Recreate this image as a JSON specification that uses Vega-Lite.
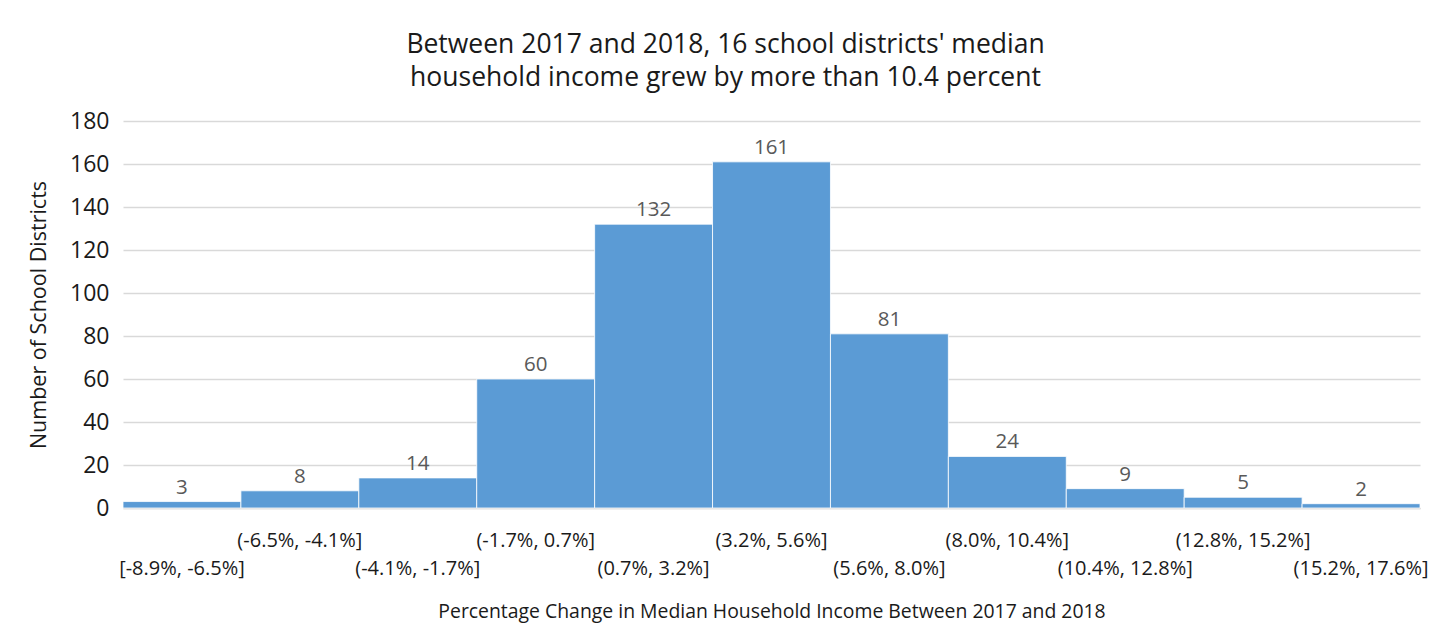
{
  "$schema": "https://vega.github.io/schema/vega-lite/v6.json",
  "width": 1297,
  "height": 387,
  "autosize": {"type": "none"},
  "padding": {"left": 123, "top": 121, "right": 32, "bottom": 129},
  "background": "white",
  "config": {
    "font": "Open Sans",
    "view": {"stroke": null}
  },
  "title": {
    "text": ["Between 2017 and 2018, 16 school districts' median", "household income grew by more than 10.4 percent"],
    "anchor": "middle",
    "dx": -46,
    "fontSize": 26.5,
    "fontWeight": "normal",
    "color": "#1a1a1a",
    "lineHeight": 33,
    "offset": 19
  },
  "data": {
    "values": [
      {"bin": "[-8.9%, -6.5%]", "count": 3},
      {"bin": "(-6.5%, -4.1%]", "count": 8},
      {"bin": "(-4.1%, -1.7%]", "count": 14},
      {"bin": "(-1.7%, 0.7%]", "count": 60},
      {"bin": "(0.7%, 3.2%]", "count": 132},
      {"bin": "(3.2%, 5.6%]", "count": 161},
      {"bin": "(5.6%, 8.0%]", "count": 81},
      {"bin": "(8.0%, 10.4%]", "count": 24},
      {"bin": "(10.4%, 12.8%]", "count": 9},
      {"bin": "(12.8%, 15.2%]", "count": 5},
      {"bin": "(15.2%, 17.6%]", "count": 2}
    ]
  },
  "encoding": {
    "x": {
      "field": "bin",
      "type": "nominal",
      "sort": null,
      "scale": {"paddingInner": 0, "paddingOuter": 0},
      "axis": {
        "title": "Percentage Change in Median Household Income Between 2017 and 2018",
        "titleFontSize": 19.4,
        "titleFontWeight": "normal",
        "titleColor": "#1a1a1a",
        "titlePadding": 24,
        "labelAngle": 0,
        "labelFontSize": 20,
        "labelColor": "#1a1a1a",
        "labelPadding": 22,
        "labelLineHeight": 28,
        "labelBaseline": "top",
        "labelOverlap": false,
        "labelExpr": "indexof(['(-6.5%, -4.1%]','(-1.7%, 0.7%]','(3.2%, 5.6%]','(8.0%, 10.4%]','(12.8%, 15.2%]'], datum.value) >= 0 ? [datum.value] : ['', datum.value]",
        "ticks": false,
        "domainColor": "#d9d9d9",
        "domainWidth": 1.5
      }
    },
    "y": {
      "field": "count",
      "type": "quantitative",
      "scale": {"domain": [0, 180], "nice": false},
      "axis": {
        "title": "Number of School Districts",
        "titleFontSize": 21.5,
        "titleFontWeight": "normal",
        "titleColor": "#1a1a1a",
        "titlePadding": 19,
        "values": [0, 20, 40, 60, 80, 100, 120, 140, 160, 180],
        "labelFontSize": 23,
        "labelColor": "#1a1a1a",
        "labelPadding": 14,
        "ticks": false,
        "domain": false,
        "gridColor": "#d9d9d9",
        "gridWidth": 1.5
      }
    }
  },
  "layer": [
    {
      "mark": {"type": "bar", "color": "#5b9bd5", "stroke": "#ffffff", "strokeWidth": 0.8}
    },
    {
      "mark": {"type": "text", "dy": -14, "fontSize": 20.5, "color": "#595959"},
      "encoding": {"text": {"field": "count", "type": "quantitative"}}
    }
  ]
}
